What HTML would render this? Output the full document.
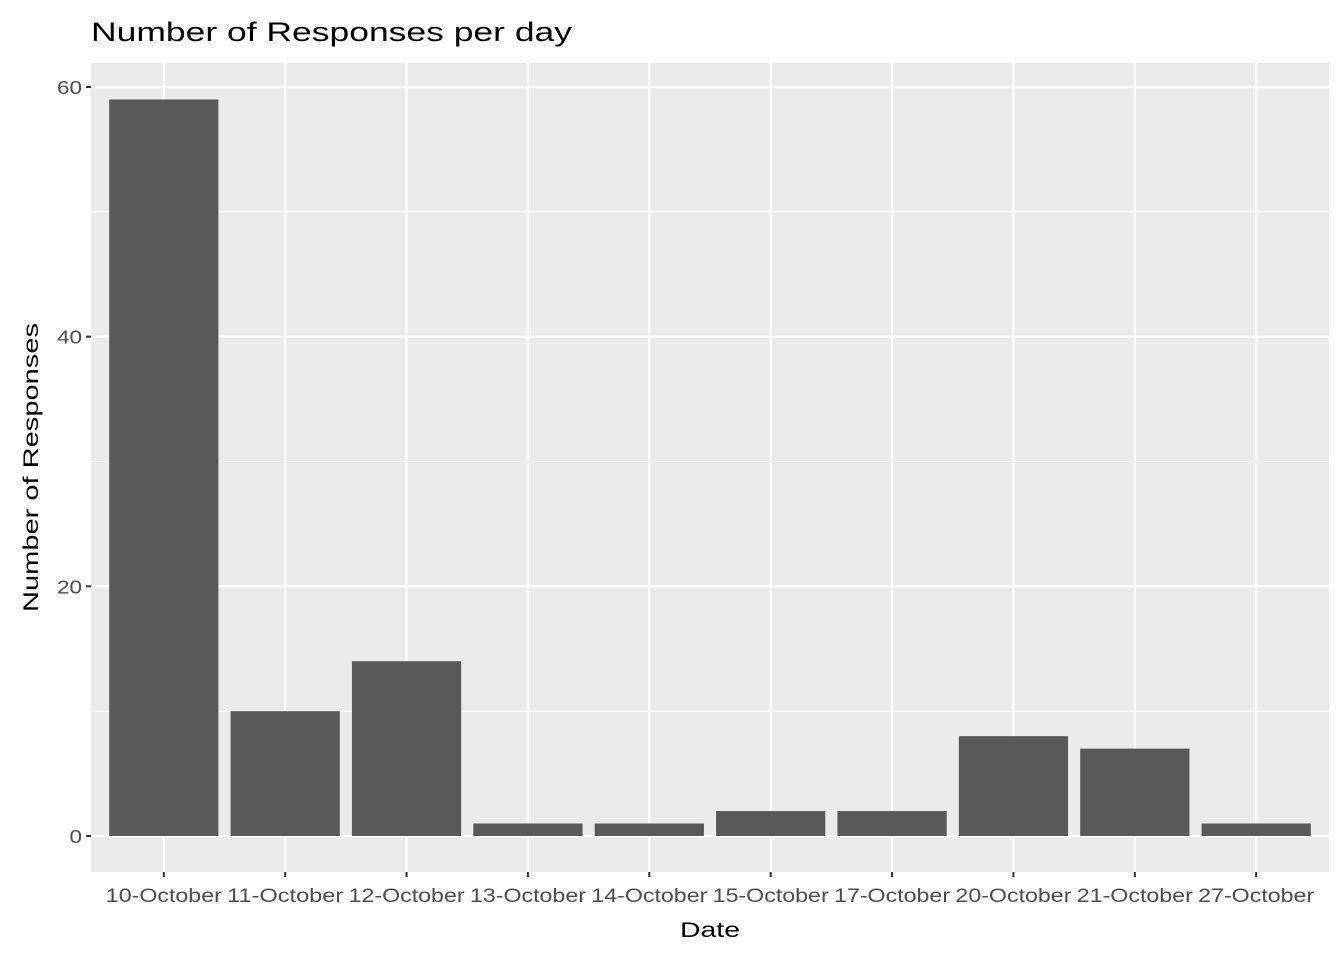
<!DOCTYPE html>
<html><head><meta charset="utf-8"><style>
body{margin:0;background:#fff;}
svg{display:block;font-family:"Liberation Sans",Arial,sans-serif;}
</style></head><body>
<svg id="chart" width="1344" height="960">
<text x="91" y="41" style="font-size:27px" textLength="481" lengthAdjust="spacingAndGlyphs" fill="#000">Number of Responses per day</text>
<rect x="91" y="63" width="1238" height="809" fill="#ebebeb"/>
<g id="grid"></g><g id="bars"></g><g id="axes"></g>
<text x="680" y="937" style="font-size:21px" textLength="60" lengthAdjust="spacingAndGlyphs" fill="#000">Date</text>
<text transform="translate(38,612) rotate(-90)" style="font-size:21px" textLength="289" lengthAdjust="spacingAndGlyphs" fill="#000">Number of Responses</text>
</svg>
<script>
const categories=["10-October","11-October","12-October","13-October","14-October","15-October","17-October","20-October","21-October","27-October"];
const values=[59,10,14,1,1,2,2,8,7,1];
const yTicks=[0,20,40,60];
const yMinor=[10,30,50];
const NS="http://www.w3.org/2000/svg";
const px0=91,px1=1329,py0=63,py1=872;
const step=(px1-px0)/(categories.length+0.2);
function xs(i){return px0+step*(0.6+i);}
function ys(v){return 836-v*(836-87)/60;}
function mk(t,a,p){const e=document.createElementNS(NS,t);for(const k in a)e.setAttribute(k,a[k]);p.appendChild(e);return e;}
const grid=document.getElementById('grid'),bars=document.getElementById('bars'),axes=document.getElementById('axes');
yMinor.forEach(v=>{const l=mk('line',{x1:px0,x2:px1,y1:ys(v),y2:ys(v),stroke:'#fff','stroke-width':1.1},grid);

});
yTicks.forEach(v=>{const l=mk('line',{x1:px0,x2:px1,y1:ys(v),y2:ys(v),stroke:'#fff','stroke-width':2.2},grid);


const t=mk('line',{x1:px0-5,x2:px0,y1:ys(v),y2:ys(v),stroke:'#333','stroke-width':2},axes);


const s=String(v);
const tx=mk('text',{x:px0-9,y:ys(v)+7,style:'font-size:18px','text-anchor':'end',fill:'#4d4d4d',textLength:s.length*12.5,lengthAdjust:'spacingAndGlyphs'},axes);tx.textContent=s;

});
categories.forEach((c,i)=>{const x=xs(i);
const g=mk('line',{x1:x,x2:x,y1:py0,y2:py1,stroke:'#fff','stroke-width':2.2},grid);


const w=step*0.9;
const b=mk('rect',{x:x-w/2,y:ys(values[i]),width:w,height:ys(0)-ys(values[i]),fill:'#595959'},bars);


const t=mk('line',{x1:x,x2:x,y1:py1,y2:py1+5,stroke:'#333','stroke-width':2},axes);


const tx=mk('text',{x:x,y:py1+30,style:'font-size:19px','text-anchor':'middle',fill:'#4d4d4d',textLength:116,lengthAdjust:'spacingAndGlyphs'},axes);tx.textContent=c;

});
</script>
</body></html>
